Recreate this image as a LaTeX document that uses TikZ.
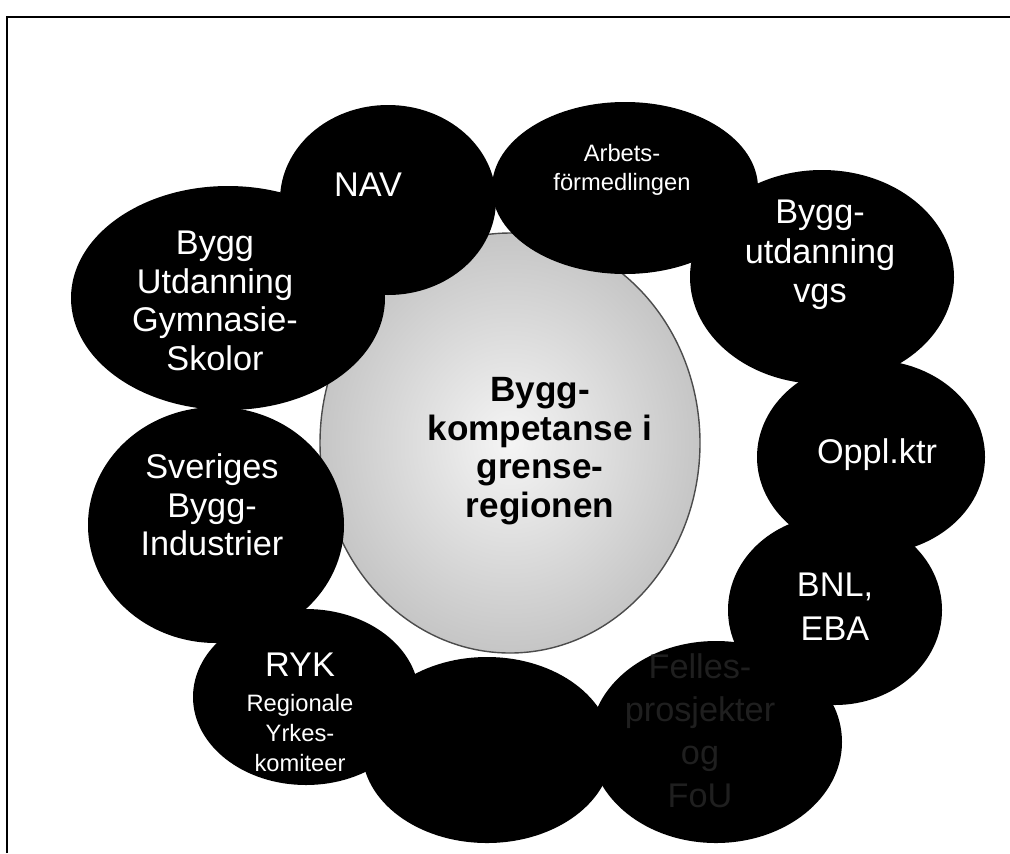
\documentclass[tikz,border=0pt]{standalone}
\usepackage{fontspec}
\setmainfont{Liberation Sans}
\usepackage{tikz}
\usepackage{xcolor}

\newcommand{\bigtxt}{\fontsize{19.5}{22}\selectfont}
\newcommand{\smalltxt}{\fontsize{13.5}{16.8}\selectfont}

\begin{document}
\begin{tikzpicture}[x=0.02cm, y=-0.02cm,
    blob/.style={fill=black},
    lbl/.style={text=white, align=center, font=\bigtxt, inner sep=0pt},
    small/.style={text=white, align=center, font=\smalltxt, inner sep=0pt},
    faded/.style={text=black!88!white, align=center, font=\bigtxt, inner sep=0pt}]
    \useasboundingbox (0,0) rectangle (1010,853);
    % ramme
    \draw[line width=1.2pt] (7,853) -- (7,17) -- (1010,17);
    % midtsirkel
    \shade[inner color=gray!8, outer color=gray!45] (510,443) ellipse [x radius=190, y radius=210];
    \draw[black!70, line width=0.8pt] (510,443) ellipse [x radius=190, y radius=210];
    % sirkler rundt
    \fill[blob] (388,200) ellipse [x radius=108, y radius=95];   % NAV
    \fill[blob] (625,188) ellipse [x radius=133, y radius=86];   % Arbetsformedlingen
    \fill[blob] (822,277) ellipse [x radius=132, y radius=107];  % Bygg-utdanning vgs
    \fill[blob] (228,298) ellipse [x radius=157, y radius=112];  % Bygg Utdanning Gymnasie-Skolor
    \fill[blob] (216,525) ellipse [x radius=128, y radius=118];  % Sveriges Bygg-Industrier
    \fill[blob] (871,457) ellipse [x radius=114, y radius=97];   % Oppl.ktr
    \fill[blob] (835,610) ellipse [x radius=107, y radius=95];   % BNL, EBA
    \fill[blob] (487,750) ellipse [x radius=125, y radius=93];   % uten tekst
    \fill[blob] (716,742) ellipse [x radius=126, y radius=101];  % Felles
    \fill[blob] (306,697) ellipse [x radius=113, y radius=88];   % RYK
    % tekster
    \node[lbl] (nav) at (368,185) {NAV};
    \node[small] (arbets) at (622,170) {Arbets-\\förmedlingen};
    \node[lbl, font=\fontsize{19.5}{22.5}\selectfont] (vgs) at (820,255) {Bygg-\\utdanning\\vgs};
    \node[lbl] (gymn) at (215,301) {Bygg\\Utdanning\\Gymnasie-\\Skolor};
    \node[lbl] (sveriges) at (212,505) {Sveriges\\Bygg-\\Industrier};
    \node[lbl] (oppl) at (877,455) {Oppl.ktr};
    \node[lbl, font=\fontsize{19.5}{25}\selectfont] (bnl) at (835,607) {BNL,\\EBA};
    \node[lbl] (ryk) at (300,665) {RYK};
    \node[small] (yrkes) at (300,733) {Regionale\\Yrkes-\\komiteer};
    \node[faded, font=\fontsize{19.5}{24.5}\selectfont] (felles) at (700,731) {Felles-\\prosjekter\\og\\FoU};
    \node[align=center, font=\bfseries\fontsize{20}{22}\selectfont, inner sep=0pt] (midt) at (540,451) {Bygg-\\kompetanse i\\grense-\\regionen};
\end{tikzpicture}
\end{document}
